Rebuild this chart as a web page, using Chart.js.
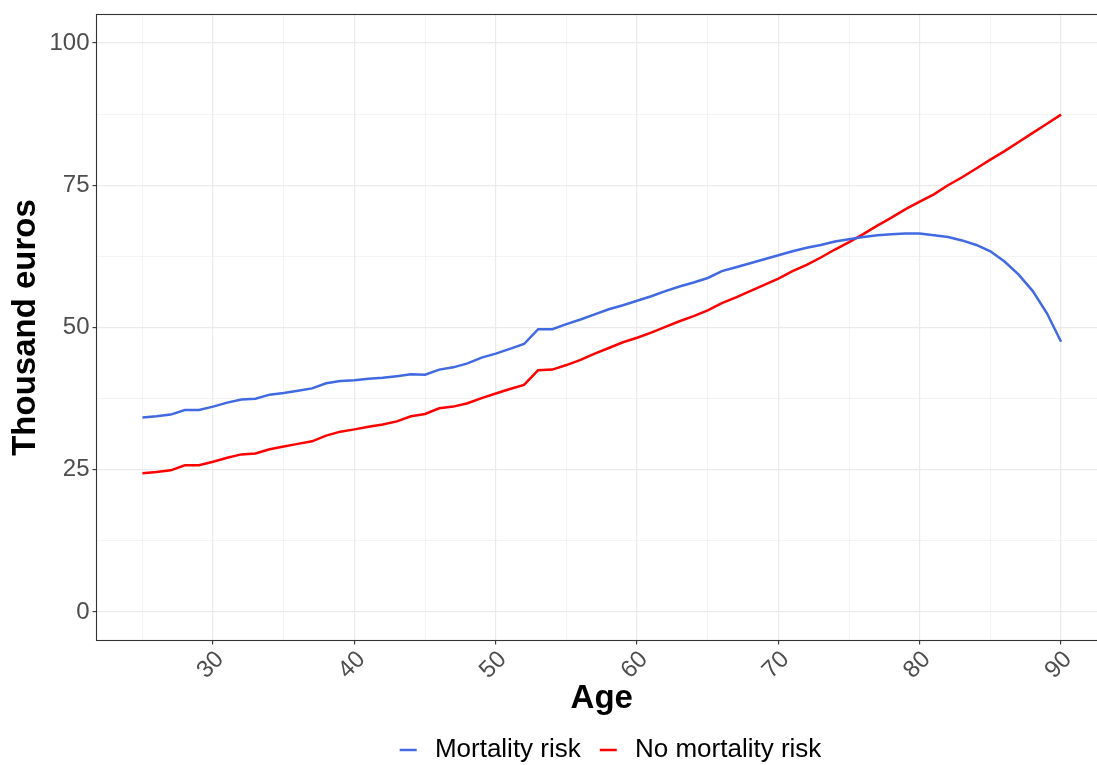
<!DOCTYPE html>
<html>
<head>
<meta charset="utf-8">
<script src="https://cdn.jsdelivr.net/npm/chart.js@4"></script>
<style>
  html, body { margin: 0; padding: 0; background: #fff; overflow: hidden; }
  #wrap { width: 1097px; height: 765px; overflow: hidden; }
</style>
</head>
<body>
<div id="wrap"><canvas id="ageChart" width="1110" height="765"></canvas></div>
<script>
// Ages on the x axis
const AGES = [25, 26, 27, 28, 29, 30, 31, 32, 33, 34, 35, 36, 37, 38, 39, 40, 41, 42, 43, 44, 45,
    46, 47, 48, 49, 50, 51, 52, 53, 54, 55, 56, 57, 58, 59, 60, 61, 62, 63, 64, 65, 66, 67, 68,
    69, 70, 71, 72, 73, 74, 75, 76, 77, 78, 79, 80, 81, 82, 83, 84, 85, 86, 87, 88, 89, 90];

// Thousand euros
const MORTALITY_RISK = [34.2, 34.4, 34.7, 35.5, 35.5, 36.1, 36.8, 37.35, 37.5, 38.2, 38.5,
    38.9, 39.3, 40.2, 40.6, 40.75, 41.0, 41.15, 41.45, 41.8, 41.7, 42.6, 43.0, 43.7, 44.7,
    45.4, 46.25, 47.1, 49.7, 49.7, 50.6, 51.4, 52.3, 53.2, 53.9, 54.7, 55.5, 56.4, 57.2, 57.9,
    58.7, 59.9, 60.6, 61.3, 62.0, 62.7, 63.4, 64.0, 64.5, 65.1, 65.5, 65.9, 66.2, 66.4, 66.5,
    66.5, 66.2, 65.9, 65.3, 64.5, 63.4, 61.6, 59.3, 56.4, 52.5, 47.5];

const NO_MORTALITY_RISK = [24.4, 24.6, 24.9, 25.8, 25.8, 26.4, 27.1, 27.7, 27.85, 28.6, 29.1,
    29.55, 30.0, 31.0, 31.7, 32.1, 32.55, 32.95, 33.5, 34.4, 34.8, 35.8, 36.1, 36.7, 37.6,
    38.4, 39.2, 39.9, 42.5, 42.6, 43.4, 44.3, 45.4, 46.4, 47.4, 48.2, 49.1, 50.1, 51.1, 52.0,
    53.0, 54.3, 55.3, 56.4, 57.5, 58.6, 59.9, 61.0, 62.3, 63.7, 65.0, 66.4, 67.9, 69.3, 70.8,
    72.1, 73.4, 75.0, 76.4, 77.95, 79.5, 81.0, 82.6, 84.2, 85.8, 87.4];

// Tick positions (major + minor grid)
const X_TICKS = [25, 30, 35, 40, 45, 50, 55, 60, 65, 70, 75, 80, 85, 90];
const Y_TICKS = [0, 12.5, 25, 37.5, 50, 62.5, 75, 87.5, 100];

const SERIES_LABELS = ['Mortality risk', 'No mortality risk'];
const BLUE = '#4169E1';
const RED = '#FF0000';
const GRID = '#ebebeb';
const AXIS = '#333333';
const TICK_TEXT = '#4d4d4d';

Chart.defaults.font.family = "'Liberation Sans', Arial, sans-serif";

// panel border like ggplot
const panelBorder = {
    id: 'panelBorder',
    beforeDatasetsDraw(chart) {
        const { ctx, chartArea: a } = chart;
        ctx.save();
        ctx.strokeStyle = AXIS;
        ctx.lineWidth = 1.1;
        ctx.strokeRect(a.left, a.top, a.right - a.left, a.bottom - a.top);
        ctx.restore();
    }
};

// legend is centred on the whole figure, not the panel
const legendShift = {
    id: 'legendShift',
    afterLayout(chart) {
        const lg = chart.legend;
        const d = 610.5 - (lg.left + lg.right) / 2;
        lg.left += d;
        lg.right += d;
    }
};

const toPoints = vals => AGES.map((a, i) => ({ x: a, y: vals[i] }));

new Chart(document.getElementById('ageChart'), {
    type: 'line',
    data: {
        datasets: [{
            label: SERIES_LABELS[0],
            data: toPoints(MORTALITY_RISK),
            borderColor: BLUE,
            backgroundColor: BLUE,
            borderWidth: 2.5,
            pointRadius: 0,
            tension: 0,
        }, {
            label: SERIES_LABELS[1],
            data: toPoints(NO_MORTALITY_RISK),
            borderColor: RED,
            backgroundColor: RED,
            borderWidth: 2.5,
            pointRadius: 0,
            tension: 0,
        }]
    },
    plugins: [panelBorder, legendShift],
    options: {
        responsive: false,
        animation: false,
        devicePixelRatio: 1,
        layout: { padding: { top: 14.5, right: 3, bottom: -8, left: 0 } },
        plugins: {
            tooltip: { enabled: false },
            legend: {
                position: 'bottom',
                fullSize: false,
                labels: {
                    color: '#000',
                    font: { size: 26 },
                    boxWidth: 17,
                    boxHeight: 2.5,
                    padding: 19,
                    generateLabels(chart) {
                        return Chart.defaults.plugins.legend.labels.generateLabels(chart)
                            .map(item => ({ ...item, text: '\u2009' + item.text, lineWidth: 0, fillStyle: item.strokeStyle }));
                    }
                }
            }
        },
        scales: {
            x: {
                type: 'linear',
                min: 21.75,
                max: 93.25,
                afterBuildTicks: scale => { scale.ticks = X_TICKS.map(v => ({ value: v })); },
                afterFit: scale => {
                    scale.height = 77.5;
                    scale.paddingLeft = 0;
                    scale.paddingRight = 0;
                },
                border: { display: false },
                grid: {
                    color: GRID,
                    lineWidth: c => (c.tick && c.tick.value % 10 === 0) ? 1.2 : 0.6,
                    tickColor: c => (c.tick && c.tick.value % 10 === 0) ? AXIS : 'rgba(0,0,0,0)',
                    tickLength: 4,
                    tickWidth: 1.1,
                },
                ticks: {
                    autoSkip: false,
                    minRotation: 45,
                    maxRotation: 45,
                    padding: 1,
                    labelOffset: 7,
                    color: TICK_TEXT,
                    font: { size: 24 },
                    callback: v => v % 10 === 0 ? String(v) : '',
                },
                title: {
                    display: true,
                    text: 'Age',
                    color: '#000',
                    font: { size: 33, weight: 'bold' },
                    padding: { top: 0, bottom: -1 },
                }
            },
            y: {
                min: -5,
                max: 105,
                afterBuildTicks: scale => { scale.ticks = Y_TICKS.map(v => ({ value: v })); },
                afterFit: scale => {
                    scale.width = 96.5;
                    scale.paddingTop = 0;
                    scale.paddingBottom = 0;
                },
                border: { display: false },
                grid: {
                    color: GRID,
                    lineWidth: c => (c.tick && c.tick.value % 25 === 0) ? 1.2 : 0.6,
                    tickColor: c => (c.tick && c.tick.value % 25 === 0) ? AXIS : 'rgba(0,0,0,0)',
                    tickLength: 4,
                    tickWidth: 1.1,
                },
                ticks: {
                    padding: 3,
                    color: TICK_TEXT,
                    font: { size: 24 },
                    callback: v => v % 25 === 0 ? String(v) : '',
                },
                title: {
                    display: true,
                    text: 'Thousand euros',
                    color: '#000',
                    font: { size: 33, weight: 'bold' },
                    padding: { top: 6, bottom: 0 },
                }
            }
        }
    }
});
</script>
</body>
</html>
